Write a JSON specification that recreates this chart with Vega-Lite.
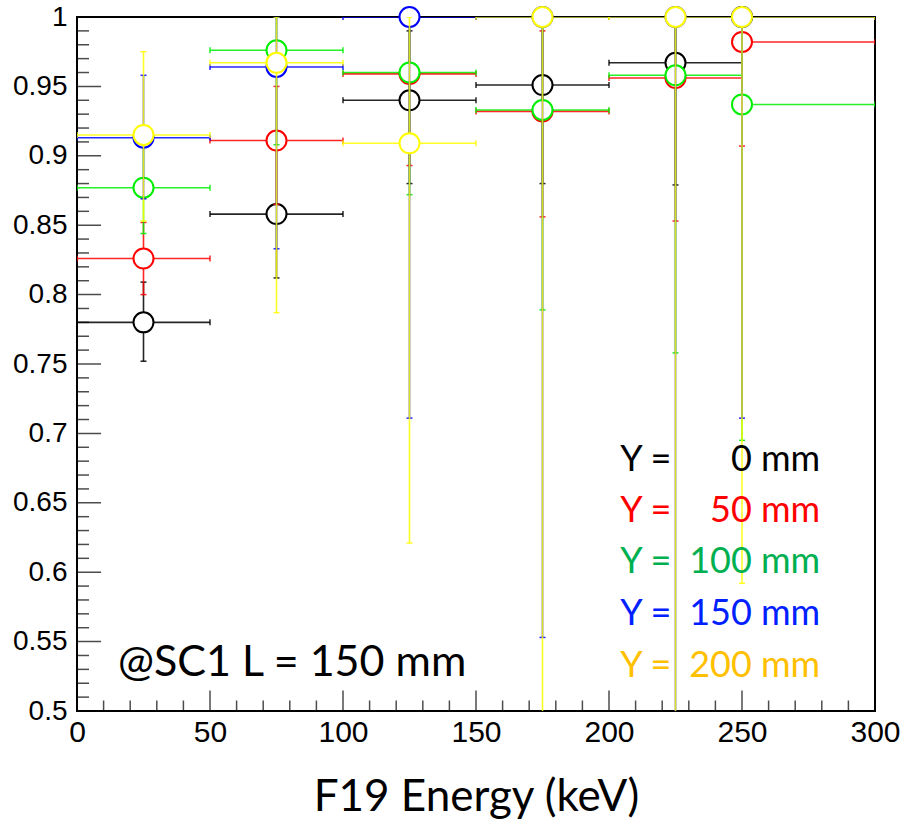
{
"$schema": "https://vega.github.io/schema/vega-lite/v6.json",
"width": 798, "height": 694,
"autosize": {"type": "none"},
"padding": {"left": 77, "top": 17, "right": 29, "bottom": 108},
"background": "white",
"config": {"view": {"stroke": "black", "strokeWidth": 2}},
"datasets": {
 "pts": [
  {"s":"Y0","x":25,"y":0.780,"ylo":0.752,"yhi":0.809,"xlo":0,"xhi":50},
  {"s":"Y0","x":75,"y":0.858,"ylo":0.812,"yhi":0.905,"xlo":50,"xhi":100},
  {"s":"Y0","x":125,"y":0.940,"ylo":0.880,"yhi":0.990,"xlo":100,"xhi":150},
  {"s":"Y0","x":175,"y":0.951,"ylo":0.880,"yhi":1.0,"xlo":150,"xhi":200},
  {"s":"Y0","x":225,"y":0.967,"ylo":0.879,"yhi":1.0,"xlo":200,"xhi":250},
  {"s":"Y0","x":250,"y":1.0,"ylo":0.932,"yhi":1.0,"xlo":250,"xhi":300},
  {"s":"Y50","x":25,"y":0.826,"ylo":0.800,"yhi":0.852,"xlo":0,"xhi":50},
  {"s":"Y50","x":75,"y":0.911,"ylo":0.865,"yhi":0.950,"xlo":50,"xhi":100},
  {"s":"Y50","x":125,"y":0.959,"ylo":0.893,"yhi":1.0,"xlo":100,"xhi":150},
  {"s":"Y50","x":175,"y":0.932,"ylo":0.856,"yhi":0.990,"xlo":150,"xhi":200},
  {"s":"Y50","x":225,"y":0.956,"ylo":0.853,"yhi":1.0,"xlo":200,"xhi":250},
  {"s":"Y50","x":250,"y":0.982,"ylo":0.907,"yhi":1.0,"xlo":250,"xhi":300},
  {"s":"Y100","x":25,"y":0.877,"ylo":0.844,"yhi":0.910,"xlo":0,"xhi":50},
  {"s":"Y100","x":75,"y":0.976,"ylo":0.908,"yhi":1.0,"xlo":50,"xhi":100},
  {"s":"Y100","x":125,"y":0.960,"ylo":0.872,"yhi":1.0,"xlo":100,"xhi":150},
  {"s":"Y100","x":175,"y":0.933,"ylo":0.789,"yhi":1.0,"xlo":150,"xhi":200},
  {"s":"Y100","x":225,"y":0.958,"ylo":0.758,"yhi":1.0,"xlo":200,"xhi":250},
  {"s":"Y100","x":250,"y":0.937,"ylo":0.695,"yhi":1.0,"xlo":250,"xhi":300},
  {"s":"Y150","x":25,"y":0.913,"ylo":0.869,"yhi":0.958,"xlo":0,"xhi":50},
  {"s":"Y150","x":75,"y":0.964,"ylo":0.833,"yhi":1.0,"xlo":50,"xhi":100},
  {"s":"Y150","x":125,"y":1.0,"ylo":0.711,"yhi":1.0,"xlo":100,"xhi":150},
  {"s":"Y150","x":175,"y":1.0,"ylo":0.553,"yhi":1.0,"xlo":150,"xhi":200},
  {"s":"Y150","x":225,"y":1.0,"ylo":0.45,"yhi":1.0,"xlo":200,"xhi":250},
  {"s":"Y150","x":250,"y":1.0,"ylo":0.711,"yhi":1.0,"xlo":250,"xhi":300},
  {"s":"Y200","x":25,"y":0.915,"ylo":0.853,"yhi":0.975,"xlo":0,"xhi":50},
  {"s":"Y200","x":75,"y":0.967,"ylo":0.787,"yhi":1.0,"xlo":50,"xhi":100},
  {"s":"Y200","x":125,"y":0.909,"ylo":0.621,"yhi":1.0,"xlo":100,"xhi":150},
  {"s":"Y200","x":175,"y":1.0,"ylo":0.3,"yhi":1.0,"xlo":150,"xhi":200},
  {"s":"Y200","x":225,"y":1.0,"ylo":0.3,"yhi":1.0,"xlo":200,"xhi":250},
  {"s":"Y200","x":250,"y":1.0,"ylo":0.592,"yhi":1.0,"xlo":250,"xhi":300}
 ],
 "xmaj": [{"v":0},{"v":50},{"v":100},{"v":150},{"v":200},{"v":250},{"v":300}],
 "xmin": [{"v":10},{"v":20},{"v":30},{"v":40},{"v":60},{"v":70},{"v":80},{"v":90},{"v":110},{"v":120},{"v":130},{"v":140},{"v":160},{"v":170},{"v":180},{"v":190},{"v":210},{"v":220},{"v":230},{"v":240},{"v":260},{"v":270},{"v":280},{"v":290}],
 "ymaj": [{"v":0.5},{"v":0.55},{"v":0.6},{"v":0.65},{"v":0.7},{"v":0.75},{"v":0.8},{"v":0.85},{"v":0.9},{"v":0.95},{"v":1.0}],
 "ymin": [{"v":0.51},{"v":0.52},{"v":0.53},{"v":0.54},{"v":0.56},{"v":0.57},{"v":0.58},{"v":0.59},{"v":0.61},{"v":0.62},{"v":0.63},{"v":0.64},{"v":0.66},{"v":0.67},{"v":0.68},{"v":0.69},{"v":0.71},{"v":0.72},{"v":0.73},{"v":0.74},{"v":0.76},{"v":0.77},{"v":0.78},{"v":0.79},{"v":0.81},{"v":0.82},{"v":0.83},{"v":0.84},{"v":0.86},{"v":0.87},{"v":0.88},{"v":0.89},{"v":0.91},{"v":0.92},{"v":0.93},{"v":0.94},{"v":0.96},{"v":0.97},{"v":0.98},{"v":0.99}]
},
"layer": [
 {"data": {"name": "xmaj"},
  "mark": {"type": "tick", "orient": "vertical", "size": 41, "thickness": 1.5, "color": "black", "clip": true},
  "encoding": {
   "x": {"field": "v", "type": "quantitative", "scale": {"domain": [0, 300], "nice": false, "zero": false},
    "axis": {"values": [0,50,100,150,200,250,300], "ticks": false, "domain": false, "grid": false, "labelFont": "Liberation Sans", "labelFontSize": 30, "labelColor": "black", "labelPadding": 6, "labelFlush": false, "labelOverlap": false, "format": "d", "title": "F19 Energy (keV)", "titleFont": "Lato", "titleFontSize": 44, "titleFontWeight": "normal", "titleColor": "black", "titleBaseline": "alphabetic", "titleY": 99}},
   "y": {"datum": 0.5, "type": "quantitative", "scale": {"domain": [0.5, 1], "nice": false, "zero": false},
    "axis": {"values": [0.5,0.55,0.6,0.65,0.7,0.75,0.8,0.85,0.9,0.95,1], "ticks": false, "domain": false, "grid": false, "labelFont": "Liberation Sans", "labelFontSize": 28, "labelColor": "black", "labelPadding": 10, "labelFlush": false, "labelOverlap": false, "format": "~g", "title": ""}}
  }},
 {"data": {"name": "xmin"},
  "mark": {"type": "tick", "orient": "vertical", "size": 21, "thickness": 1.5, "color": "black", "clip": true},
  "encoding": {"x": {"field": "v", "type": "quantitative"}, "y": {"datum": 0.5, "type": "quantitative"}}},
 {"data": {"name": "ymaj"},
  "mark": {"type": "tick", "orient": "horizontal", "size": 48, "thickness": 1.5, "color": "black", "clip": true},
  "encoding": {"y": {"field": "v", "type": "quantitative"}, "x": {"datum": 0, "type": "quantitative"}}},
 {"data": {"name": "ymin"},
  "mark": {"type": "tick", "orient": "horizontal", "size": 24, "thickness": 1.5, "color": "black", "clip": true},
  "encoding": {"y": {"field": "v", "type": "quantitative"}, "x": {"datum": 0, "type": "quantitative"}}},

 {"data": {"name": "pts"}, "transform": [{"filter": "datum.s === 'Y0'"}],
  "encoding": {"color": {"field": "s", "type": "nominal", "scale": {"domain": ["Y0","Y50","Y100","Y150","Y200"], "range": ["#000000","#ff0000","#00ee00","#0000ff","#ffff00"]}, "legend": null},
   "opacity": {"field": "s", "type": "nominal", "scale": {"domain": ["Y0","Y50","Y100","Y150","Y200"], "range": [0.85,0.85,0.85,0.9,0.72]}, "legend": null}},
  "layer": [
   {"mark": {"type": "rule", "strokeWidth": 1.6, "clip": true}, "encoding": {"x": {"field": "x", "type": "quantitative"}, "y": {"field": "ylo", "type": "quantitative"}, "y2": {"field": "yhi"}}},
   {"mark": {"type": "rule", "strokeWidth": 1.6, "clip": true}, "encoding": {"x": {"field": "xlo", "type": "quantitative"}, "x2": {"field": "xhi"}, "y": {"field": "y", "type": "quantitative"}}},
   {"mark": {"type": "tick", "orient": "horizontal", "size": 6, "thickness": 1.5, "clip": true}, "encoding": {"x": {"field": "x", "type": "quantitative"}, "y": {"field": "ylo", "type": "quantitative"}}},
   {"mark": {"type": "tick", "orient": "horizontal", "size": 6, "thickness": 1.5, "clip": true}, "encoding": {"x": {"field": "x", "type": "quantitative"}, "y": {"field": "yhi", "type": "quantitative"}}},
   {"mark": {"type": "tick", "orient": "vertical", "size": 6, "thickness": 1.5, "clip": true}, "encoding": {"x": {"field": "xlo", "type": "quantitative"}, "y": {"field": "y", "type": "quantitative"}}},
   {"mark": {"type": "tick", "orient": "vertical", "size": 6, "thickness": 1.5, "clip": true}, "encoding": {"x": {"field": "xhi", "type": "quantitative"}, "y": {"field": "y", "type": "quantitative"}}},
   {"mark": {"type": "point", "shape": "circle", "size": 400, "filled": false, "strokeWidth": 2}, "encoding": {"x": {"field": "x", "type": "quantitative"}, "y": {"field": "y", "type": "quantitative"}, "fill": {"value": "white"}, "opacity": {"value": 1}}}
  ]},
 {"data": {"name": "pts"}, "transform": [{"filter": "datum.s === 'Y50'"}],
  "encoding": {"color": {"field": "s", "type": "nominal", "legend": null}, "opacity": {"field": "s", "type": "nominal", "legend": null}},
  "layer": [
   {"mark": {"type": "rule", "strokeWidth": 1.6, "clip": true}, "encoding": {"x": {"field": "x", "type": "quantitative"}, "y": {"field": "ylo", "type": "quantitative"}, "y2": {"field": "yhi"}}},
   {"mark": {"type": "rule", "strokeWidth": 1.6, "clip": true}, "encoding": {"x": {"field": "xlo", "type": "quantitative"}, "x2": {"field": "xhi"}, "y": {"field": "y", "type": "quantitative"}}},
   {"mark": {"type": "tick", "orient": "horizontal", "size": 6, "thickness": 1.5, "clip": true}, "encoding": {"x": {"field": "x", "type": "quantitative"}, "y": {"field": "ylo", "type": "quantitative"}}},
   {"mark": {"type": "tick", "orient": "horizontal", "size": 6, "thickness": 1.5, "clip": true}, "encoding": {"x": {"field": "x", "type": "quantitative"}, "y": {"field": "yhi", "type": "quantitative"}}},
   {"mark": {"type": "tick", "orient": "vertical", "size": 6, "thickness": 1.5, "clip": true}, "encoding": {"x": {"field": "xlo", "type": "quantitative"}, "y": {"field": "y", "type": "quantitative"}}},
   {"mark": {"type": "tick", "orient": "vertical", "size": 6, "thickness": 1.5, "clip": true}, "encoding": {"x": {"field": "xhi", "type": "quantitative"}, "y": {"field": "y", "type": "quantitative"}}},
   {"mark": {"type": "point", "shape": "circle", "size": 400, "filled": false, "strokeWidth": 2}, "encoding": {"x": {"field": "x", "type": "quantitative"}, "y": {"field": "y", "type": "quantitative"}, "fill": {"value": "white"}, "opacity": {"value": 1}}}
  ]},
 {"data": {"name": "pts"}, "transform": [{"filter": "datum.s === 'Y100'"}],
  "encoding": {"color": {"field": "s", "type": "nominal", "legend": null}, "opacity": {"field": "s", "type": "nominal", "legend": null}},
  "layer": [
   {"mark": {"type": "rule", "strokeWidth": 1.6, "clip": true}, "encoding": {"x": {"field": "x", "type": "quantitative"}, "y": {"field": "ylo", "type": "quantitative"}, "y2": {"field": "yhi"}}},
   {"mark": {"type": "rule", "strokeWidth": 1.6, "clip": true}, "encoding": {"x": {"field": "xlo", "type": "quantitative"}, "x2": {"field": "xhi"}, "y": {"field": "y", "type": "quantitative"}}},
   {"mark": {"type": "tick", "orient": "horizontal", "size": 6, "thickness": 1.5, "clip": true}, "encoding": {"x": {"field": "x", "type": "quantitative"}, "y": {"field": "ylo", "type": "quantitative"}}},
   {"mark": {"type": "tick", "orient": "horizontal", "size": 6, "thickness": 1.5, "clip": true}, "encoding": {"x": {"field": "x", "type": "quantitative"}, "y": {"field": "yhi", "type": "quantitative"}}},
   {"mark": {"type": "tick", "orient": "vertical", "size": 6, "thickness": 1.5, "clip": true}, "encoding": {"x": {"field": "xlo", "type": "quantitative"}, "y": {"field": "y", "type": "quantitative"}}},
   {"mark": {"type": "tick", "orient": "vertical", "size": 6, "thickness": 1.5, "clip": true}, "encoding": {"x": {"field": "xhi", "type": "quantitative"}, "y": {"field": "y", "type": "quantitative"}}},
   {"mark": {"type": "point", "shape": "circle", "size": 400, "filled": false, "strokeWidth": 2}, "encoding": {"x": {"field": "x", "type": "quantitative"}, "y": {"field": "y", "type": "quantitative"}, "fill": {"value": "white"}, "opacity": {"value": 1}}}
  ]},
 {"data": {"name": "pts"}, "transform": [{"filter": "datum.s === 'Y150'"}],
  "encoding": {"color": {"field": "s", "type": "nominal", "legend": null}, "opacity": {"field": "s", "type": "nominal", "legend": null}},
  "layer": [
   {"mark": {"type": "rule", "strokeWidth": 1.6, "clip": true}, "encoding": {"x": {"field": "x", "type": "quantitative"}, "y": {"field": "ylo", "type": "quantitative"}, "y2": {"field": "yhi"}}},
   {"mark": {"type": "rule", "strokeWidth": 1.6, "clip": true}, "encoding": {"x": {"field": "xlo", "type": "quantitative"}, "x2": {"field": "xhi"}, "y": {"field": "y", "type": "quantitative"}}},
   {"mark": {"type": "tick", "orient": "horizontal", "size": 6, "thickness": 1.5, "clip": true}, "encoding": {"x": {"field": "x", "type": "quantitative"}, "y": {"field": "ylo", "type": "quantitative"}}},
   {"mark": {"type": "tick", "orient": "horizontal", "size": 6, "thickness": 1.5, "clip": true}, "encoding": {"x": {"field": "x", "type": "quantitative"}, "y": {"field": "yhi", "type": "quantitative"}}},
   {"mark": {"type": "tick", "orient": "vertical", "size": 6, "thickness": 1.5, "clip": true}, "encoding": {"x": {"field": "xlo", "type": "quantitative"}, "y": {"field": "y", "type": "quantitative"}}},
   {"mark": {"type": "tick", "orient": "vertical", "size": 6, "thickness": 1.5, "clip": true}, "encoding": {"x": {"field": "xhi", "type": "quantitative"}, "y": {"field": "y", "type": "quantitative"}}},
   {"mark": {"type": "point", "shape": "circle", "size": 400, "filled": false, "strokeWidth": 2}, "encoding": {"x": {"field": "x", "type": "quantitative"}, "y": {"field": "y", "type": "quantitative"}, "fill": {"value": "white"}, "opacity": {"value": 1}}}
  ]},
 {"data": {"name": "pts"}, "transform": [{"filter": "datum.s === 'Y200'"}],
  "encoding": {"color": {"field": "s", "type": "nominal", "legend": null}, "opacity": {"field": "s", "type": "nominal", "legend": null}},
  "layer": [
   {"mark": {"type": "rule", "strokeWidth": 1.6, "clip": true}, "encoding": {"x": {"field": "x", "type": "quantitative"}, "y": {"field": "ylo", "type": "quantitative"}, "y2": {"field": "yhi"}}},
   {"mark": {"type": "rule", "strokeWidth": 1.6, "clip": true}, "encoding": {"x": {"field": "xlo", "type": "quantitative"}, "x2": {"field": "xhi"}, "y": {"field": "y", "type": "quantitative"}}},
   {"mark": {"type": "tick", "orient": "horizontal", "size": 6, "thickness": 1.5, "clip": true}, "encoding": {"x": {"field": "x", "type": "quantitative"}, "y": {"field": "ylo", "type": "quantitative"}}},
   {"mark": {"type": "tick", "orient": "horizontal", "size": 6, "thickness": 1.5, "clip": true}, "encoding": {"x": {"field": "x", "type": "quantitative"}, "y": {"field": "yhi", "type": "quantitative"}}},
   {"mark": {"type": "tick", "orient": "vertical", "size": 6, "thickness": 1.5, "clip": true}, "encoding": {"x": {"field": "xlo", "type": "quantitative"}, "y": {"field": "y", "type": "quantitative"}}},
   {"mark": {"type": "tick", "orient": "vertical", "size": 6, "thickness": 1.5, "clip": true}, "encoding": {"x": {"field": "xhi", "type": "quantitative"}, "y": {"field": "y", "type": "quantitative"}}},
   {"mark": {"type": "point", "shape": "circle", "size": 400, "filled": false, "strokeWidth": 2}, "encoding": {"x": {"field": "x", "type": "quantitative"}, "y": {"field": "y", "type": "quantitative"}, "fill": {"value": "white"}, "opacity": {"value": 1}}}
  ]},

 {"data": {"values": [{}]}, "mark": {"type": "text", "align": "left", "baseline": "alphabetic", "font": "Lato", "fontSize": 36, "color": "#000000"}, "encoding": {"x": {"datum": 204.2, "type": "quantitative"}, "y": {"datum": 0.673, "type": "quantitative"}, "text": {"value": "Y ="}}},
 {"data": {"values": [{}]}, "mark": {"type": "text", "align": "right", "baseline": "alphabetic", "font": "Lato", "fontSize": 36, "color": "#000000"}, "encoding": {"x": {"datum": 279.4, "type": "quantitative"}, "y": {"datum": 0.673, "type": "quantitative"}, "text": {"value": "0 mm"}}},
 {"data": {"values": [{}]}, "mark": {"type": "text", "align": "left", "baseline": "alphabetic", "font": "Lato", "fontSize": 36, "color": "#ff0000"}, "encoding": {"x": {"datum": 204.2, "type": "quantitative"}, "y": {"datum": 0.636, "type": "quantitative"}, "text": {"value": "Y ="}}},
 {"data": {"values": [{}]}, "mark": {"type": "text", "align": "right", "baseline": "alphabetic", "font": "Lato", "fontSize": 36, "color": "#ff0000"}, "encoding": {"x": {"datum": 279.4, "type": "quantitative"}, "y": {"datum": 0.636, "type": "quantitative"}, "text": {"value": "50 mm"}}},
 {"data": {"values": [{}]}, "mark": {"type": "text", "align": "left", "baseline": "alphabetic", "font": "Lato", "fontSize": 36, "color": "#00b050"}, "encoding": {"x": {"datum": 204.2, "type": "quantitative"}, "y": {"datum": 0.5994, "type": "quantitative"}, "text": {"value": "Y ="}}},
 {"data": {"values": [{}]}, "mark": {"type": "text", "align": "right", "baseline": "alphabetic", "font": "Lato", "fontSize": 36, "color": "#00b050"}, "encoding": {"x": {"datum": 279.4, "type": "quantitative"}, "y": {"datum": 0.5994, "type": "quantitative"}, "text": {"value": "100 mm"}}},
 {"data": {"values": [{}]}, "mark": {"type": "text", "align": "left", "baseline": "alphabetic", "font": "Lato", "fontSize": 36, "color": "#0020ff"}, "encoding": {"x": {"datum": 204.2, "type": "quantitative"}, "y": {"datum": 0.5617, "type": "quantitative"}, "text": {"value": "Y ="}}},
 {"data": {"values": [{}]}, "mark": {"type": "text", "align": "right", "baseline": "alphabetic", "font": "Lato", "fontSize": 36, "color": "#0020ff"}, "encoding": {"x": {"datum": 279.4, "type": "quantitative"}, "y": {"datum": 0.5617, "type": "quantitative"}, "text": {"value": "150 mm"}}},
 {"data": {"values": [{}]}, "mark": {"type": "text", "align": "left", "baseline": "alphabetic", "font": "Lato", "fontSize": 36, "color": "#ffc000"}, "encoding": {"x": {"datum": 204.2, "type": "quantitative"}, "y": {"datum": 0.5245, "type": "quantitative"}, "text": {"value": "Y ="}}},
 {"data": {"values": [{}]}, "mark": {"type": "text", "align": "right", "baseline": "alphabetic", "font": "Lato", "fontSize": 36, "color": "#ffc000"}, "encoding": {"x": {"datum": 279.4, "type": "quantitative"}, "y": {"datum": 0.5245, "type": "quantitative"}, "text": {"value": "200 mm"}}},
 {"data": {"values": [{}]}, "mark": {"type": "text", "align": "left", "baseline": "alphabetic", "font": "Lato", "fontSize": 43, "color": "#000000"}, "encoding": {"x": {"datum": 15.4, "type": "quantitative"}, "y": {"datum": 0.525, "type": "quantitative"}, "text": {"value": "@SC1 L = 150 mm"}}}
]
}
